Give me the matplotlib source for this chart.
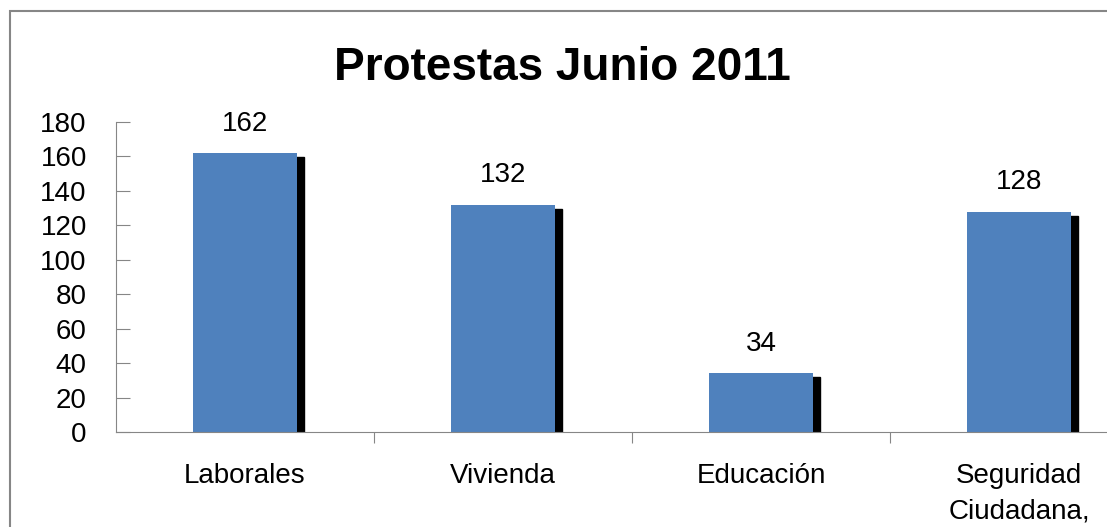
import matplotlib
matplotlib.use("Agg")
from matplotlib import pyplot as plt
from matplotlib.patches import Rectangle
import numpy as np

categorias = ["Laborales", "Vivienda", "Educación", "Seguridad\nCiudadana,"]
valores = [162, 132, 34, 128]
titulo = "Protestas Junio 2011"

plt.rcParams['font.family'] = ['Liberation Sans', 'DejaVu Sans']

W, H = 1107, 527
fig = plt.figure(figsize=(W / 100, H / 100), dpi=100)

# axes: left edge x=116, y0 at 432, y180 at 122, right edge beyond the image (1148)
ax = fig.add_axes([116 / W, 1 - 432 / H, 1032 / W, 310 / H])
x = np.arange(len(categorias))
azul = "#4F81BD"
ancho = 0.4
# sombra
sx = 7 / 258
sy = 4 / 1.722
for xi, v in zip(x, valores):
    ax.add_patch(Rectangle((xi - ancho / 2 + sx, 0), ancho, v - sy, color="black", zorder=1))
ax.bar(x, valores, width=ancho, color=azul, zorder=2)

for xi, v in zip(x, valores):
    ax.text(xi, v + 17, str(v), ha="center", va="center", fontsize=20)

ax.set_xlim(-0.5, 3.5)
ax.set_ylim(0, 180)
ax.set_yticks(range(0, 181, 20))
ax.tick_params(axis="y", direction="in", length=10, color="#868686", labelsize=20, pad=21)
ax.set_xticks([0.5, 1.5, 2.5])
ax.set_xticklabels([])
ax.tick_params(axis="x", direction="out", length=8, color="#868686")
for xi, c in zip(x, categorias):
    ax.text(xi, -18, c, ha="center", va="top", fontsize=20, linespacing=1.45)

for s in ["top", "right"]:
    ax.spines[s].set_visible(False)
ax.spines["left"].set_color("#868686")
ax.spines["bottom"].set_color("#868686")

fig.text(562 / W, 1 - 68 / H, titulo, ha="center", va="center", fontsize=33, fontweight="bold")

fig.add_artist(Rectangle((10 / W, -0.1), 1.2, 1 - 11 / H + 0.1, transform=fig.transFigure,
                         fill=False, edgecolor="#868686", linewidth=1.5))

fig.savefig("out.png", dpi=100)
